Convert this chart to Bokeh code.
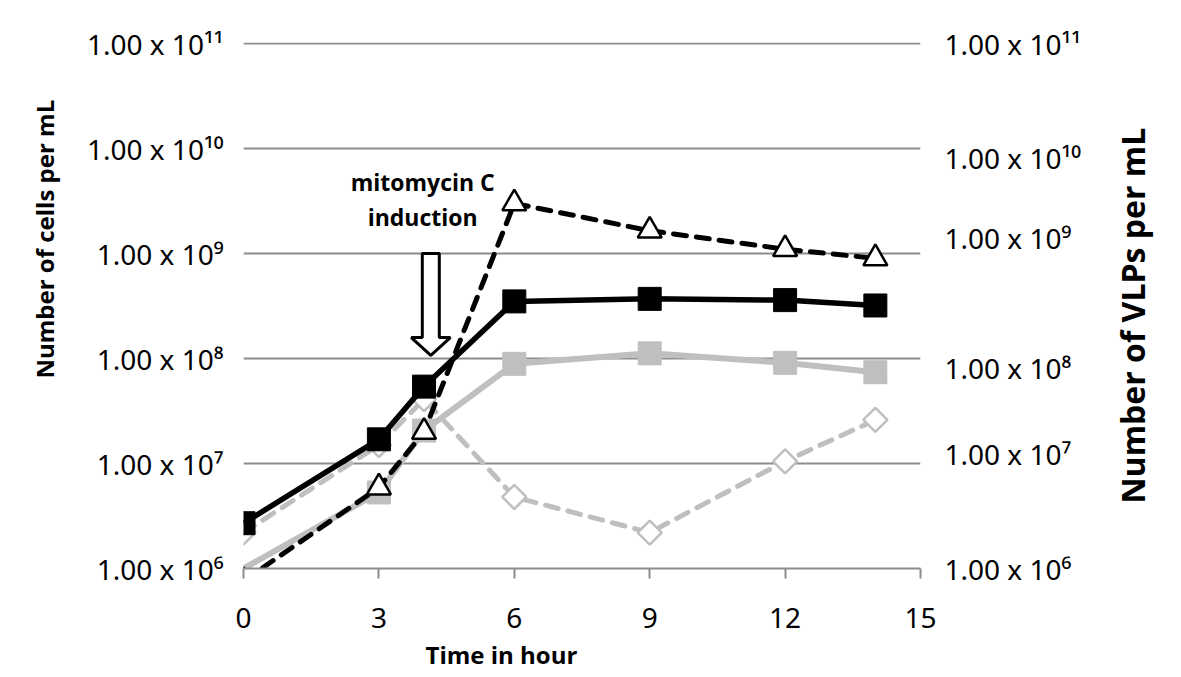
from bokeh.plotting import figure
from bokeh.models import (Range1d, FixedTicker, CustomJSTickFormatter, LinearAxis, LinearScale,
                          ColumnDataSource, CDSView, IndexFilter, Label, Title)
from bokeh.embed import file_html
from bokeh.resources import INLINE
import numpy as np

# ---------------- data ----------------
hours = [0, 3, 4, 6, 9, 12, 14]
cells_black = [2.7e6, 1.7e7, 5.4e7, 3.5e8, 3.7e8, 3.6e8, 3.2e8]
cells_gray = [1.0e6, 5.3e6, 2.06e7, 8.9e7, 1.12e8, 9.1e7, 7.4e7]
vlp_black = [7.6e5, 5.9e6, 2.0e7, 3.0e9, 1.65e9, 1.1e9, 9.0e8]
vlp_gray = [2.2e6, 1.5e7, 4.1e7, 4.8e6, 2.2e6, 1.05e7, 2.6e7]

x_ticks = [0, 3, 6, 9, 12, 15]
left_tick_vals = [1e6, 1e7, 1e8, 1e9, 1e10, 1e11]
left_tick_labels = ["1.00 x 10\u2076", "1.00 x 10\u2077", "1.00 x 10\u2078",
                    "1.00 x 10\u2079", "1.00 x 10\u00b9\u2070", "1.00 x 10\u00b9\u00b9"]
# right axis (as printed, irregularly placed), positions in decades of left scale
right_tick_pos = [6.0, 7.095, 7.905, 9.152, 9.914, 11.0]
right_tick_labels = ["1.00 x 10\u2076", "1.00 x 10\u2077", "1.00 x 10\u2078",
                     "1.00 x 10\u2079", "1.00 x 10\u00b9\u2070", "1.00 x 10\u00b9\u00b9"]

x_title = "Time in hour"
left_title = "Number of cells per mL"
right_title = "Number of VLPs  per mL"

induction_hour = 4.15
induction_text = ["mitomycin C", "induction"]

GRAY = "#BFBFBF"
GRID = "#8C8C8C"
TICKFONT = "Noto Sans"
TITLEFONT = "Open Sans"
TOP_DEC = 11.01

p = figure(width=1180, height=676, output_backend="svg", toolbar_location=None,
           y_axis_type="log", x_range=Range1d(0, 15), y_range=Range1d(1e6, 10 ** TOP_DEC),
           min_border_left=243, min_border_right=260, min_border_top=42,
           min_border_bottom=108)
p.outline_line_color = None
p.background_fill_color = "white"
p.border_fill_color = "white"

# x axis
p.xaxis.ticker = FixedTicker(ticks=x_ticks)
p.xaxis.axis_line_color = GRID
p.xaxis.axis_line_width = 2
p.xaxis.major_tick_line_color = GRID
p.xaxis.major_tick_line_width = 2
p.xaxis.major_tick_out = 10
p.xaxis.major_tick_in = 0
p.xaxis.minor_tick_line_color = None
p.xaxis.major_label_text_font = TICKFONT
p.xaxis.major_label_text_font_size = "28px"
p.xaxis.major_label_text_color = "black"
p.xaxis.major_label_standoff = 29
p.xgrid.grid_line_color = None

# left axis
lt = FixedTicker(ticks=left_tick_vals)
p.yaxis.ticker = lt
p.ygrid.ticker = lt
p.yaxis.formatter = CustomJSTickFormatter(
    args=dict(pos=left_tick_vals, labels=left_tick_labels),
    code="const i = pos.indexOf(tick); return i >= 0 ? labels[i] : '';")
p.yaxis.axis_line_color = None
p.yaxis.major_tick_line_color = None
p.yaxis.major_tick_out = 0
p.yaxis.major_tick_in = 0
p.yaxis.minor_tick_line_color = None
p.yaxis.major_label_text_font = TICKFONT
p.yaxis.major_label_text_font_size = "28px"
p.yaxis.major_label_text_color = "black"
p.yaxis.major_label_standoff = 20
p.ygrid.grid_line_color = GRID
p.ygrid.grid_line_width = 2

# right axis
p.extra_y_ranges = {"vlp": Range1d(6, TOP_DEC)}
p.extra_y_scales = {"vlp": LinearScale()}
ra = LinearAxis(y_range_name="vlp", ticker=FixedTicker(ticks=right_tick_pos),
                formatter=CustomJSTickFormatter(
                    args=dict(pos=right_tick_pos, labels=right_tick_labels),
                    code="const i = pos.indexOf(tick); return i >= 0 ? labels[i] : '';"))
ra.axis_line_color = None
ra.major_tick_line_color = None
ra.major_tick_out = 0
ra.major_tick_in = 0
ra.minor_tick_line_color = None
ra.major_label_text_font = TICKFONT
ra.major_label_text_font_size = "28px"
ra.major_label_text_color = "black"
ra.major_label_standoff = 24
p.add_layout(ra, "right")

# right axis title: drawn as a rotated (bottom-to-top) label of an outer axis
rt = LinearAxis(y_range_name="vlp", ticker=FixedTicker(ticks=[6.62]),
                formatter=CustomJSTickFormatter(args=dict(t=right_title), code="return t;"),
                major_label_orientation=np.pi / 2)
rt.axis_line_color = None
rt.major_tick_line_color = None
rt.major_tick_out = 0
rt.major_tick_in = 0
rt.minor_tick_line_color = None
rt.major_label_text_font = TITLEFONT
rt.major_label_text_font_style = "bold"
rt.major_label_text_font_size = "32px"
rt.major_label_text_color = "black"
rt.major_label_standoff = 48
p.add_layout(rt, "right")

# left / bottom titles
p.add_layout(Title(text=left_title, align="left", offset=190, standoff=46,
                   text_font=TITLEFONT, text_font_style="bold", text_font_size="24px",
                   text_color="black"), "left")
p.add_layout(Title(text=x_title, align="left", offset=182, standoff=10,
                   text_font=TITLEFONT, text_font_style="bold", text_font_size="24px",
                   text_color="black"), "below")

# ---------------- series ----------------
src = ColumnDataSource(dict(h=hours, cb=cells_black, cg=cells_gray, vb=vlp_black, vg=vlp_gray))

# gray diamonds (dashed)
p.line("h", "vg", source=src, line_color=GRAY, line_width=5, line_dash="13 10", line_cap="round")
p.scatter("h", "vg", source=src, marker="square", angle=np.pi / 4, size=17,
          fill_color="white", line_color=GRAY, line_width=2.5)
# gray squares (solid)
p.line("h", "cg", source=src, line_color=GRAY, line_width=6)
p.scatter("h", "cg", source=src, view=CDSView(filter=IndexFilter(list(range(1, len(hours))))),
          marker="square", size=23, fill_color=GRAY, line_color=GRAY)
# black squares (solid)
p.line("h", "cb", source=src, line_color="black", line_width=5.5)
p.scatter("h", "cb", source=src, marker="square", size=23, fill_color="black", line_color="black")
# black triangles (dashed)
p.line("h", "vb", source=src, line_color="black", line_width=5, line_dash="13 10", line_cap="round")
p.scatter("h", "vb", source=src, marker="triangle", size=24,
          fill_color="white", line_color="black", line_width=2.5)

# ---------------- induction arrow ----------------
px_per_hr = 45.13
sw = 8.5 / px_per_hr
hw = 19.5 / px_per_hr
top_dec, tip_dec, head_dec = 9.0, 8.03, 0.17
ax = induction_hour
arrow_x = [ax - sw, ax + sw, ax + sw, ax + hw, ax, ax - hw, ax - sw]
arrow_y = [10 ** d for d in [top_dec, top_dec, tip_dec + head_dec, tip_dec + head_dec,
                             tip_dec, tip_dec + head_dec, tip_dec + head_dec]]
p.patch(arrow_x, arrow_y, fill_color="white", line_color="black", line_width=3)

for t, dec in zip(induction_text, [9.68, 9.345]):
    p.add_layout(Label(x=3.97, y=10 ** dec, text=t, text_align="center",
                       text_baseline="middle", text_font=TITLEFONT,
                       text_font_style="bold", text_font_size="23px", text_color="black"))

open("out.html", "w").write(file_html(p, INLINE))
